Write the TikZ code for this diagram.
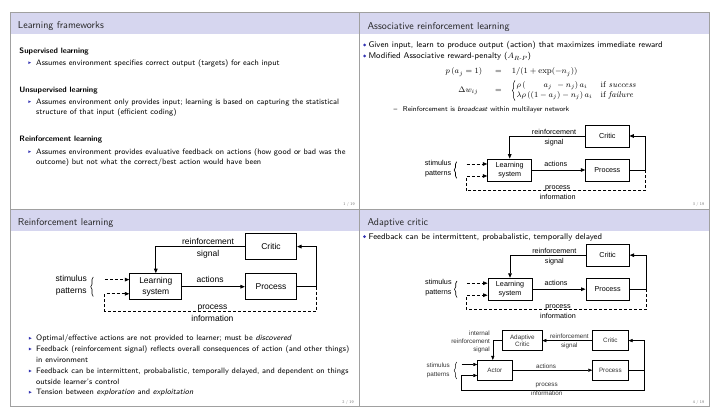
\documentclass[tikz,border=0pt]{standalone}
\usepackage{amsmath}
\usepackage{fontspec}
\newfontfamily\figfont{Liberation Sans}
\usetikzlibrary{arrows.meta,decorations.pathreplacing}
\definecolor{rlpurple}{RGB}{51,51,178}
\definecolor{rltitlebar}{RGB}{214,214,239}
\definecolor{rlframe}{RGB}{160,160,160}

% the critic / learning system / process loop, placed by the centre of its learning system
\newcommand{\rlloop}[4]{%
\begin{scope}[shift={#2}, scale=#3, transform shape, line width=#4]
  \node[box] (#1ls) at (0,0) {Learning\\system};
  \node[box, minimum width=43.3pt] (#1critic) at (97.6,-34) {Critic};
  \node[box, minimum width=43.3pt] (#1proc) at (97.6,0) {Process};
  \coordinate (#1rc) at (136,-34);
  \coordinate (#1rp) at (136,0);
  \coordinate (#1br) at (136,20.7);
  \coordinate (#1bl) at (-43.2,20.7);
  \coordinate (#1sa) at (-43.2,-6);
  \coordinate (#1sb) at (-43.2,6);
  \draw[flow] (#1ls) -- (#1proc);
  \draw[flow] (#1critic.west) -| (#1ls.north);
  \draw[flow] (#1proc.east) -| (#1rc) -- (#1critic.east);
  \draw[dashflow] (#1rp) -- (#1br) -- (#1bl) -- (#1sb) -- (#1ls.west |- #1sb);
  \draw[dashflow] (#1sa) -- (#1ls.west |- #1sa);
  \draw[stimbrace, line width=0.6pt] (-53,8.3) -- (-53,-8.3);
  \node[lbl, anchor=east] (#1stim) at (-58,-1.3) {stimulus\\patterns};
  \node[lbl] (#1rsig) at (44.3,-32.3) {reinforcement\\signal};
  \node[lbl] (#1act) at (46,-6) {actions};
  \node[lbl] (#1pinf) at (48,22.3) {process\\information};
\end{scope}}

\begin{document}
\begin{tikzpicture}[
  x=1pt, y=-1pt,
  slideframe/.style={draw=rlframe, line width=0.7pt},
  titlebar/.style={fill=rltitlebar},
  frametitle/.style={anchor=base west, inner sep=0pt, text=black!85, font=\sffamily\fontsize{10}{12}\selectfont},
  body/.style={anchor=base west, inner sep=0pt, font=\sffamily\fontsize{7.85}{9.4}\selectfont},
  head/.style={body, font=\sffamily\bfseries\fontsize{7.85}{9.4}\selectfont},
  wbody/.style={anchor=base west, inner sep=0pt, font=\sffamily\fontsize{8.3}{10}\selectfont},
  subbody/.style={anchor=base west, inner sep=0pt, font=\sffamily\fontsize{7.07}{8.5}\selectfont},
  pagenum/.style={inner sep=0pt, text=black!55, font=\sffamily\fontsize{4}{5}\selectfont},
  box/.style={draw, minimum width=44pt, minimum height=22pt, inner sep=0pt, align=center, font=\figfont\fontsize{7.2}{9.3}\selectfont},
  lbl/.style={inner sep=0pt, align=center, font=\figfont\fontsize{7.2}{10}\selectfont},
  flow/.style={-{Triangle[length=4.5pt,width=3.6pt]}},
  dashflow/.style={flow, dash pattern=on 3pt off 2pt},
  stimbrace/.style={decorate, decoration={brace, amplitude=2.5pt}},
  eqbrace/.style={decorate, decoration={brace, amplitude=2.6pt}, line width=0.5pt},
  boxsmall/.style={draw, line width=0.5pt, minimum height=20pt, inner sep=0pt, align=center, text=black!80, font=\figfont\fontsize{6.3}{7.6}\selectfont},
  lblsmall/.style={inner sep=0pt, align=center, text=black!80, font=\figfont\fontsize{6.3}{9}\selectfont},
  flowsmall/.style={-{Triangle[length=4pt,width=3.2pt]}, line width=0.5pt},
  pics/tribullet/.style={code={\fill[rlpurple] (-1.2,-1.4) -- (1.6,0) -- (-1.2,1.4) -- cycle;}},
  pics/ballbullet/.style={code={\fill[rlpurple] (0,0) circle (1.5);}}
]
\useasboundingbox (0,0) rectangle (720,419);

% Slide 1: learning frameworks
\fill[titlebar] (10,12.3) rectangle (359.3,34);
\draw[slideframe] (10,12.3) rectangle (359.3,209.7);
\node[frametitle] (t1) at (17.7,28.7) {Learning frameworks};
\node[head] (h1) at (19.3,53.6) {Supervised learning};
\pic at (29.5,62.7) {tribullet};
\node[body] (b1) at (36,65.3) {Assumes environment specifies correct output (targets) for each input};
\node[head] (h2) at (19.3,92.6) {Unsupervised learning};
\pic at (29.5,101.7) {tribullet};
\node[body] (b2a) at (36,104.3) {Assumes environment only provides input; learning is based on capturing the statistical};
\node[body] (b2b) at (36,114.9) {structure of that input (efficient coding)};
\node[head] (h3) at (19.3,141.6) {Reinforcement learning};
\pic at (29.5,151.7) {tribullet};
\node[body] (b3a) at (36,154.3) {Assumes environment provides evaluative feedback on actions (how good or bad was the};
\node[body] (b3b) at (36,164.9) {outcome) but not what the correct/best action would have been};
\node[pagenum] (p1) at (349,204.5) {1 / 19};

% Slide 2: associative reinforcement learning
\fill[titlebar] (359.3,12.3) rectangle (709,34);
\draw[slideframe] (359.3,12.3) rectangle (709,209.7);
\node[frametitle] (t2) at (367.3,29.3) {Associative reinforcement learning};
\pic at (364.7,45) {ballbullet};
\node[wbody] (c1) at (368.3,47.7) {Given input, learn to produce output (action) that maximizes immediate reward};
\pic at (364.7,56) {ballbullet};
\node[wbody] (c2) at (368.3,58.7) {Modified Associative reward-penalty ($A_{R\text{-}P}$)};
\node[wbody, anchor=base] (e1l) at (463.9,74) {$p\,(a_j=1)$};
\node[wbody, anchor=base] (e1m) at (498.5,74) {$=$};
\node[wbody] (e1r) at (511.7,74) {$1/(1+\exp(-n_j))$};
\node[wbody, anchor=base] (e2l) at (468.3,92.5) {$\Delta w_{ij}$};
\node[wbody, anchor=base] (e2m) at (498.5,92.5) {$=$};
\node[wbody, anchor=west] (e2r) at (516.5,90.5) {$\begin{array}{@{}l@{\quad}l@{}}
  \rho\,(\phantom{(1-{}}a_j\phantom{)}-n_j)\,a_i & \textrm{if \textit{success}}\\
  \lambda\rho\,((1-a_j)-n_j)\,a_i & \textrm{if \textit{failure}}
  \end{array}$};
\draw[eqbrace] ([xshift=-1.5pt]e2r.south west) -- ([xshift=-1.5pt]e2r.north west);
\node[subbody] (c3d) at (393.5,111.5) {--};
\node[subbody] (c3) at (402.7,111.5) {Reinforcement is \emph{broadcast} within multilayer network};
\rlloop{d2}{(509.7,170)}{1}{0.8pt}
\node[pagenum] (p3) at (698.5,204.5) {3 / 19};

% Slide 3: reinforcement learning
\fill[titlebar] (10,209.7) rectangle (359.3,231);
\draw[slideframe] (10,209.7) rectangle (359.3,406);
\node[frametitle] (t3) at (17.7,225.2) {Reinforcement learning};
\rlloop{d3}{(155.8,286.7)}{1.18}{0.9pt}
\pic at (30,338.3) {tribullet};
\node[body] (r1) at (36,340.9) {Optimal/effective actions are not provided to learner; must be \emph{discovered}};
\pic at (30,349) {tribullet};
\node[body] (r2a) at (36,351.6) {Feedback (reinforcement signal) reflects overall consequences of action (and other things)};
\node[body] (r2b) at (36,362.3) {in environment};
\pic at (30,371) {tribullet};
\node[body] (r3a) at (36,373.6) {Feedback can be intermittent, probabalistic, temporally delayed, and dependent on things};
\node[body] (r3b) at (36,384.3) {outside learner's control};
\pic at (30,392.3) {tribullet};
\node[body] (r4) at (36,394.9) {Tension between \emph{exploration} and \emph{exploitation}};
\node[pagenum] (p2) at (348,402.5) {2 / 19};

% Slide 4: adaptive critic
\fill[titlebar] (359.3,209.7) rectangle (709,231);
\draw[slideframe] (359.3,209.7) rectangle (709,406);
\node[frametitle] (t4) at (367.3,225.2) {Adaptive critic};
\pic at (364.5,236.7) {ballbullet};
\node[wbody] (a1) at (368.3,239.4) {Feedback can be intermittent, probabalistic, temporally delayed};
\rlloop{d4}{(510,289.2)}{1}{0.8pt}

% actor and adaptive critic
\node[boxsmall, minimum width=39.5pt] (adcritic) at (522.3,340.6) {Adaptive\\Critic};
\node[boxsmall, minimum width=35.8pt] (acritic) at (610.4,340.6) {Critic};
\node[boxsmall, minimum width=34.5pt] (actor) at (494.8,370.2) {Actor};
\node[boxsmall, minimum width=35.8pt] (aproc) at (610.4,370.2) {Process};
\coordinate (ar) at (644.3,340.6);
\coordinate (arb) at (644.3,390);
\coordinate (alb) at (461.5,390);
\coordinate (asb) at (461.5,375.5);
\coordinate (asa) at (461.5,364.5);
\draw[flowsmall] (actor) -- (aproc);
\draw[flowsmall] (aproc.east) -| (ar) -- (acritic.east);
\draw[flowsmall] (acritic) -- (adcritic);
\draw[flowsmall] (adcritic.west) -| ([xshift=-2pt]actor.north);
\draw[flowsmall] (ar |- aproc) -- (arb) -- (alb) -- (asb) -- (actor.west |- asb);
\draw[flowsmall] (asa) -- (actor.west |- asa);
\draw[stimbrace, line width=0.5pt] (456.7,379) -- (456.7,362);
\node[lblsmall, anchor=east] (astim) at (450,370) {stimulus\\patterns};
\node[lblsmall, anchor=east, align=right, font=\figfont\fontsize{6.3}{7.7}\selectfont] (aint) at (490,341.7) {internal\\reinforcement\\signal};
\node[lblsmall] (arsig) at (569.3,341.2) {reinforcement\\signal};
\node[lblsmall] (aact) at (546,366) {actions};
\node[lblsmall] (apinf) at (546.7,389.5) {process\\information};
\node[pagenum] (p4) at (698.5,402.5) {4 / 19};

\end{tikzpicture}
\end{document}
